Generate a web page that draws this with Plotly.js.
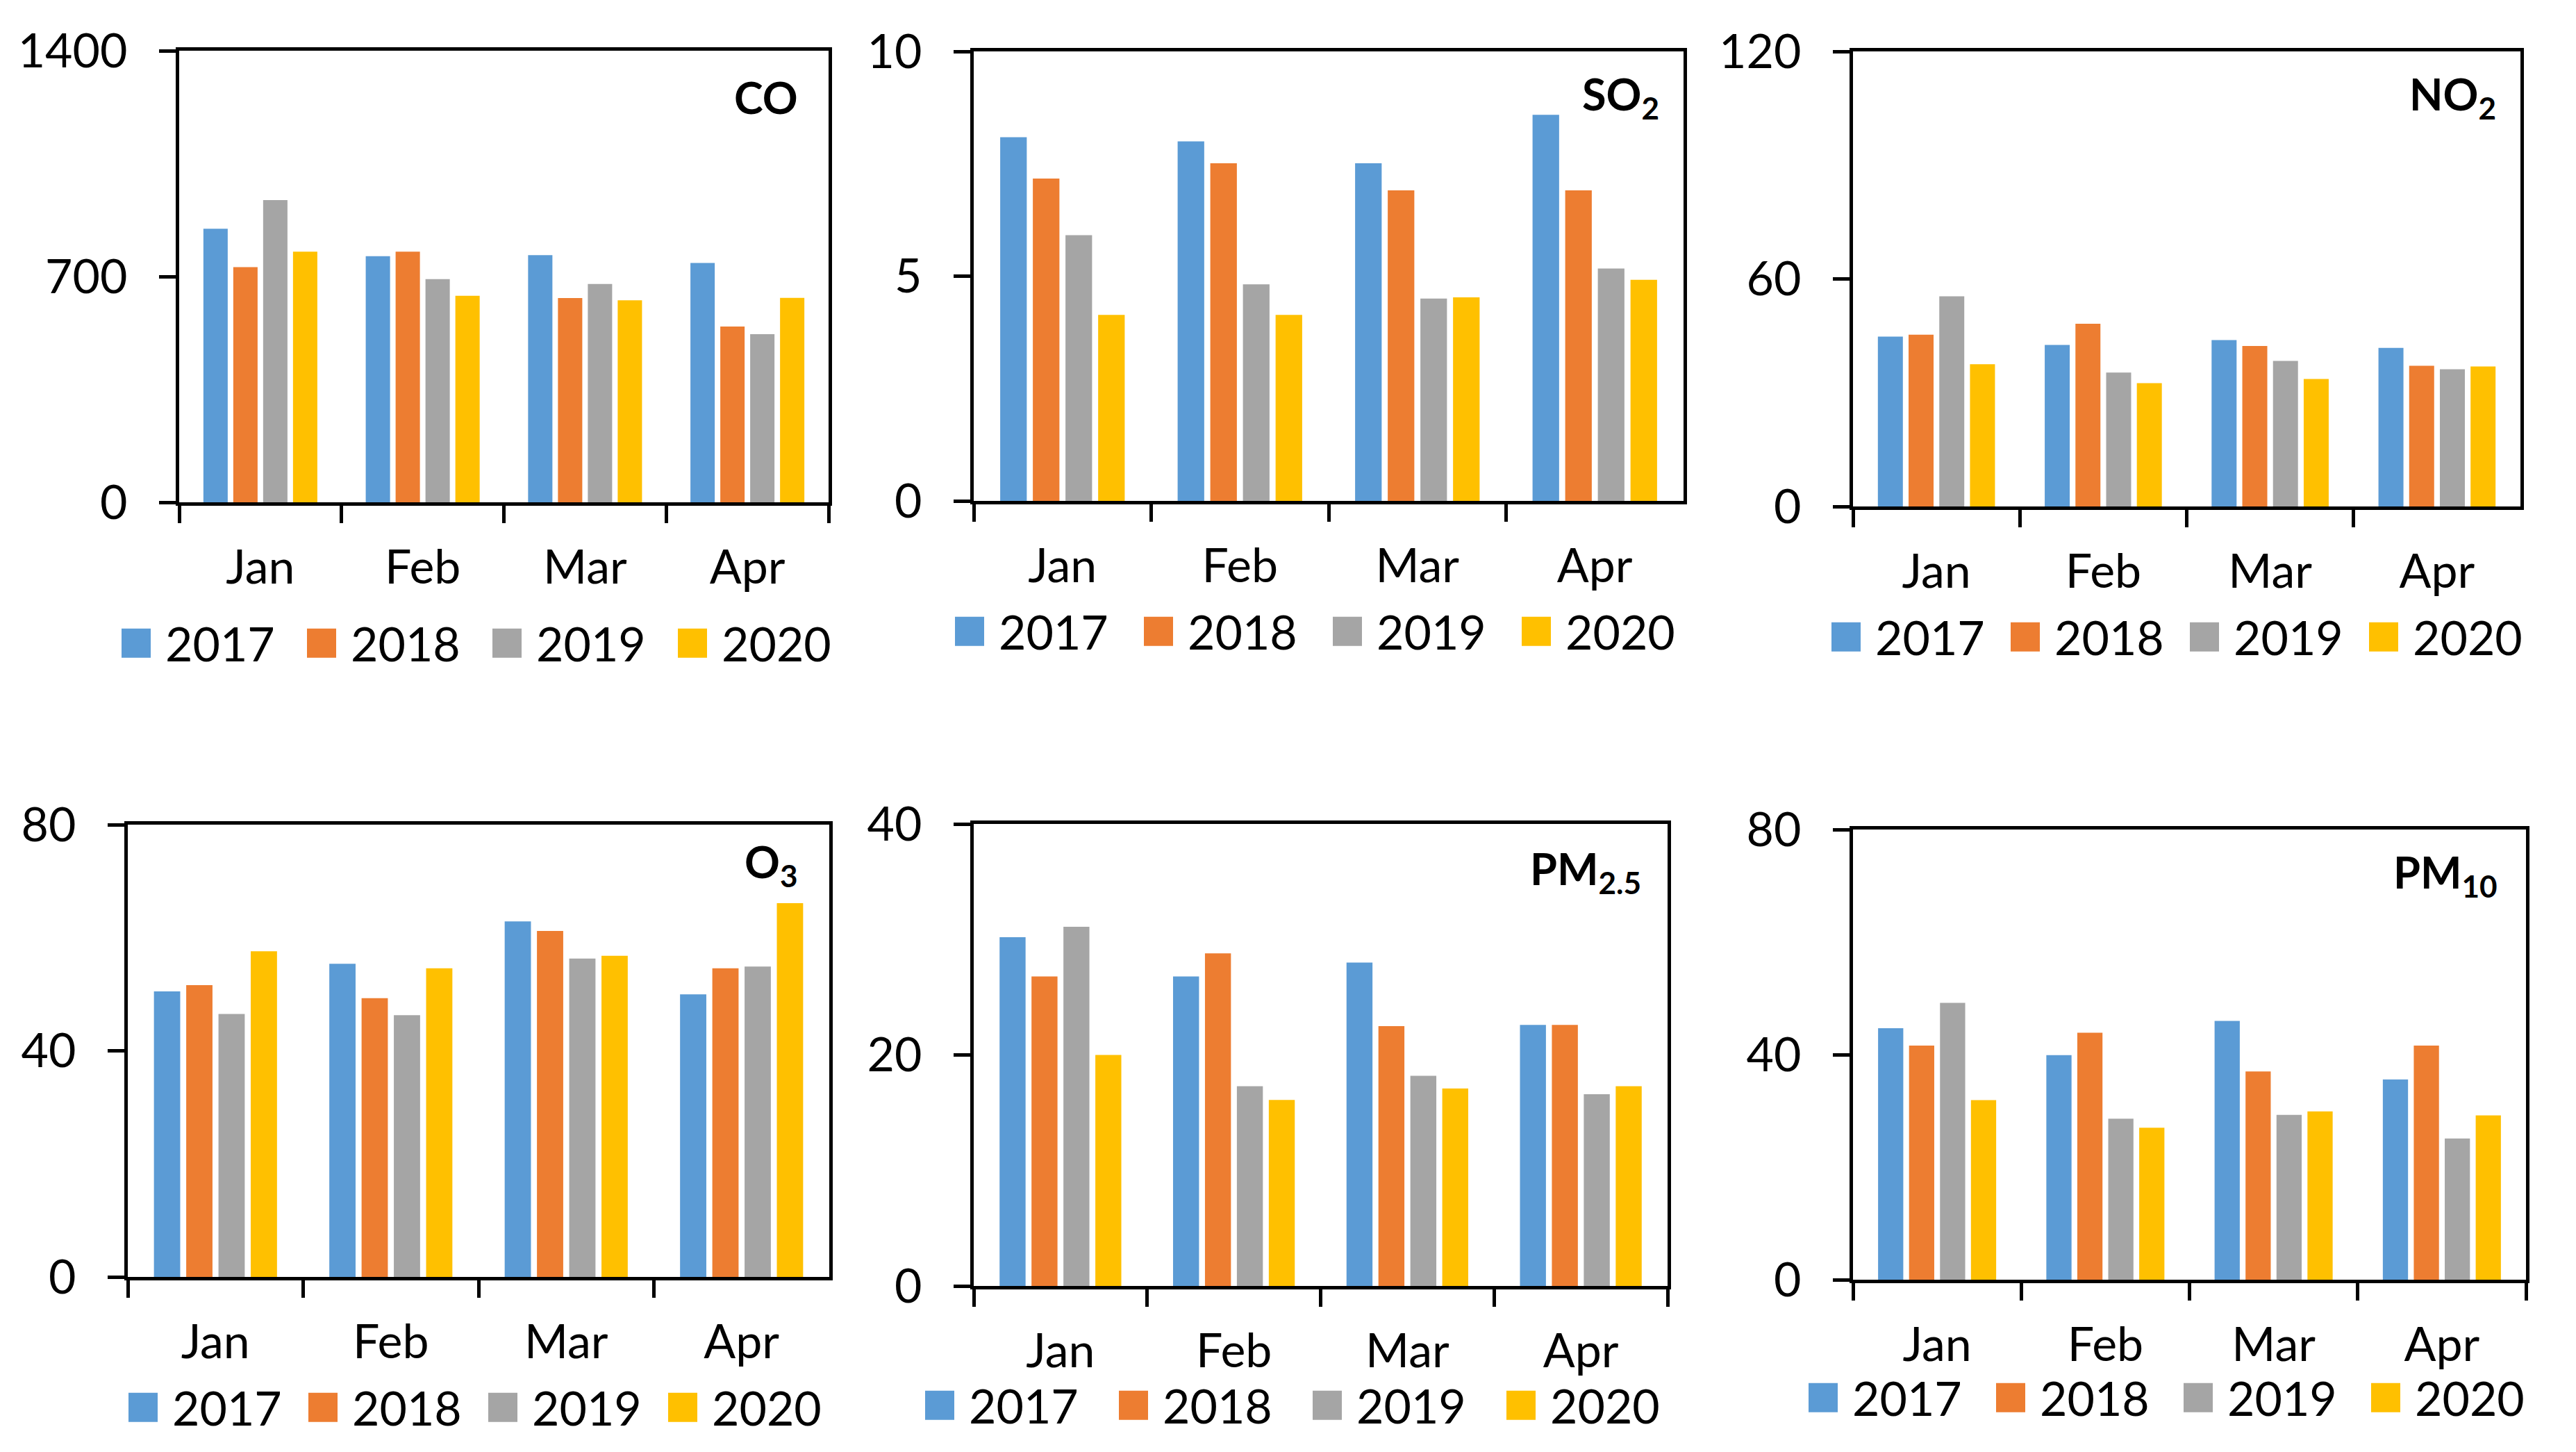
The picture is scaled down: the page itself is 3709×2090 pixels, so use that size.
<!DOCTYPE html>
<html>
<head>
<meta charset="utf-8">
<script src="https://cdn.plot.ly/plotly-3.0.1.min.js"></script>
<style>
html, body { margin: 0; padding: 0; background: #ffffff; }
#chart { width: 3709px; height: 2090px; }
</style>
</head>
<body>
<div id="chart"></div>
<script>
// ---------------- DATA ----------------
const months = ['Jan', 'Feb', 'Mar', 'Apr'];
const years = ['2017', '2018', '2019', '2020'];

const CO_2017 = [848, 763, 766, 742];
const CO_2018 = [729, 777, 633, 545];
const CO_2019 = [937, 692, 677, 521];
const CO_2020 = [777, 640, 626, 634];
const CO_TICKS = [0, 700, 1400];

const SO2_2017 = [8.09, 8.00, 7.51, 8.59];
const SO2_2018 = [7.17, 7.51, 6.91, 6.91];
const SO2_2019 = [5.91, 4.82, 4.50, 5.17];
const SO2_2020 = [4.14, 4.14, 4.53, 4.92];
const SO2_TICKS = [0, 5, 10];

const NO2_2017 = [44.8, 42.6, 43.9, 41.8];
const NO2_2018 = [45.3, 48.2, 42.3, 37.1];
const NO2_2019 = [55.4, 35.3, 38.4, 36.2];
const NO2_2020 = [37.5, 32.5, 33.6, 36.9];
const NO2_TICKS = [0, 60, 120];

const O3_2017 = [50.5, 55.4, 62.9, 50.0];
const O3_2018 = [51.6, 49.3, 61.2, 54.6];
const O3_2019 = [46.5, 46.3, 56.3, 54.9];
const O3_2020 = [57.6, 54.6, 56.8, 66.1];
const O3_TICKS = [0, 40, 80];

const PM25_2017 = [30.2, 26.8, 28.0, 22.6];
const PM25_2018 = [26.8, 28.8, 22.5, 22.6];
const PM25_2019 = [31.1, 17.3, 18.2, 16.6];
const PM25_2020 = [20.0, 16.1, 17.1, 17.3];
const PM25_TICKS = [0, 20, 40];

const PM10_2017 = [44.7, 39.9, 46.0, 35.6];
const PM10_2018 = [41.6, 43.9, 37.0, 41.6];
const PM10_2019 = [49.2, 28.6, 29.3, 25.1];
const PM10_2020 = [31.9, 27.0, 29.9, 29.2];
const PM10_TICKS = [0, 40, 80];

// ---------------- STYLE / LAYOUT ----------------
const W = 3709, H = 2090;
const FONT = 'Lato, "Open Sans", sans-serif';
const COLORS = ['#5B9BD5', '#ED7D31', '#A5A5A5', '#FFC000'];

// pixel boxes: [left, top, right, bottom]
const panels = [
  { title: '<b>CO</b>', series: [CO_2017, CO_2018, CO_2019, CO_2020], ticks: CO_TICKS,
    box: [258, 73, 1193, 723], titleRight: 1151, titleY: 139, legendLeft: 175, legendY: 926, entry: 178 },
  { title: '<b>SO<sub>2</sub></b>', series: [SO2_2017, SO2_2018, SO2_2019, SO2_2020], ticks: SO2_TICKS,
    box: [1402, 74, 2424, 721], titleRight: 2391, titleY: 139, legendLeft: 1375, legendY: 909, entry: 183 },
  { title: '<b>NO<sub>2</sub></b>', series: [NO2_2017, NO2_2018, NO2_2019, NO2_2020], ticks: NO2_TICKS,
    box: [2668, 74, 3629, 729], titleRight: 3596, titleY: 139, legendLeft: 2637, legendY: 917, entry: 169 },
  { title: '<b>O<sub>3</sub></b>', series: [O3_2017, O3_2018, O3_2019, O3_2020], ticks: O3_TICKS,
    box: [184, 1187, 1194, 1838], titleRight: 1150, titleY: 1244, legendLeft: 185, legendY: 2026, entry: 170 },
  { title: '<b>PM<sub>2.5</sub></b>', series: [PM25_2017, PM25_2018, PM25_2019, PM25_2020], ticks: PM25_TICKS,
    box: [1402, 1186, 2401, 1851], titleRight: 2365, titleY: 1254, legendLeft: 1332, legendY: 2023, entry: 190 },
  { title: '<b>PM<sub>10</sub></b>', series: [PM10_2017, PM10_2018, PM10_2019, PM10_2020], ticks: PM10_TICKS,
    box: [2668, 1194, 3637, 1842], titleRight: 3598, titleY: 1259, legendLeft: 2604, legendY: 2012, entry: 181 }
];

const traces = [];
const layout = {
  width: W, height: H, autosize: false,
  margin: { l: 0, r: 0, t: 0, b: 0, pad: 0 },
  paper_bgcolor: '#ffffff', plot_bgcolor: '#ffffff',
  font: { family: FONT, size: 68, color: '#000000' },
  barmode: 'group', bargap: 0.264, bargroupgap: 0.186,
  annotations: []
};

panels.forEach((p, i) => {
  const n = i + 1;
  const xa = 'xaxis' + (n === 1 ? '' : n), ya = 'yaxis' + (n === 1 ? '' : n);
  const xr = 'x' + (n === 1 ? '' : n), yr = 'y' + (n === 1 ? '' : n);
  const lg = 'legend' + (n === 1 ? '' : n);
  const [l, t, r, b] = p.box;

  p.series.forEach((vals, j) => {
    traces.push({
      type: 'bar', x: months, y: vals, name: years[j],
      xaxis: xr, yaxis: yr, legend: lg, showlegend: true,
      marker: { color: COLORS[j], line: { width: 0 } },
      hoverinfo: 'skip'
    });
  });

  layout[xa] = {
    domain: [l / W, r / W], anchor: yr, type: 'category',
    range: [-0.5, 3.5], tickson: 'boundaries',
    ticks: 'outside', ticklen: 25, tickwidth: 5, tickcolor: '#000000',
    showline: true, linewidth: 5, linecolor: '#000000', mirror: true,
    showgrid: false, zeroline: false,
    tickfont: { family: FONT, size: 68, color: '#000000' },
    ticklabelstandoff: 30, fixedrange: true
  };
  layout[ya] = {
    domain: [1 - b / H, 1 - t / H], anchor: xr,
    range: [p.ticks[0], p.ticks[p.ticks.length - 1]],
    tickmode: 'array', tickvals: p.ticks,
    ticks: 'outside', ticklen: 24, tickwidth: 5, tickcolor: '#000000',
    showline: true, linewidth: 5, linecolor: '#000000', mirror: true,
    showgrid: false, zeroline: false,
    tickfont: { family: FONT, size: 68, color: '#000000' },
    ticklabelstandoff: 32, fixedrange: true
  };
  layout[lg] = {
    orientation: 'h', xref: 'paper', yref: 'paper',
    x: (p.legendLeft - 21) / W, xanchor: 'left',
    y: 1 - p.legendY / H, yanchor: 'middle',
    font: { family: FONT, size: 68, color: '#000000' },
    itemwidth: 74, entrywidth: p.entry, entrywidthmode: 'pixels',
    bgcolor: 'rgba(0,0,0,0)', borderwidth: 0, traceorder: 'normal'
  };
  layout.annotations.push({
    xref: 'paper', yref: 'paper',
    x: p.titleRight / W, xanchor: 'right',
    y: 1 - p.titleY / H, yanchor: 'middle',
    text: p.title, showarrow: false,
    font: { family: FONT, size: 63, color: '#000000' }
  });
});

Plotly.newPlot('chart', traces, layout, { displayModeBar: false, staticPlot: true }).then(() => {
  // enlarge the legend colour squares to match the reference
  document.querySelectorAll('.legendpoints path').forEach(path => {
    path.setAttribute('d', 'M21,21H-21V-21H21Z');
  });
});
</script>
</body>
</html>
